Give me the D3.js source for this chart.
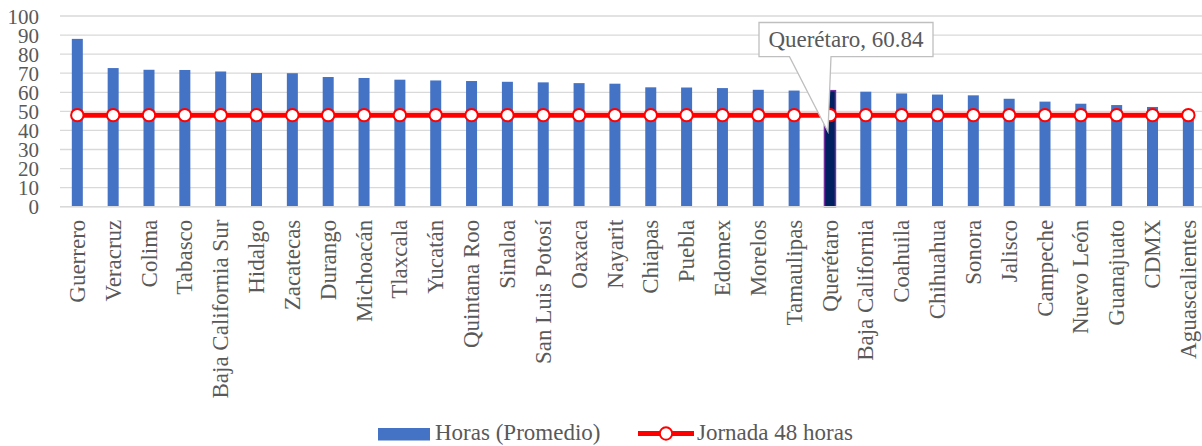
<!DOCTYPE html>
<html><head><meta charset="utf-8">
<script src="https://cdn.jsdelivr.net/npm/d3@7"></script>
<style>body{margin:0;background:#fff}svg{display:block}</style>
</head><body>
<svg id="c" width="1202" height="446"></svg>
<script>
const categories = ["Guerrero","Veracruz","Colima","Tabasco","Baja California Sur","Hidalgo","Zacatecas","Durango","Michoacán","Tlaxcala","Yucatán","Quintana Roo","Sinaloa","San Luis Potosí","Oaxaca","Nayarit","Chiapas","Puebla","Edomex","Morelos","Tamaulipas","Querétaro","Baja California","Coahuila","Chihuahua","Sonora","Jalisco","Campeche","Nuevo León","Guanajuato","CDMX","Aguascalientes"];
const horas = [88.0,72.7,71.8,71.7,70.9,70.1,70.0,68.0,67.5,66.6,66.2,65.9,65.5,65.2,64.8,64.5,62.6,62.5,62.2,61.3,60.9,60.84,60.3,59.4,58.8,58.4,56.6,55.1,54.0,53.3,52.3,48.2];
const jornada = categories.map(() => 48);
const yTicks = [0,10,20,30,40,50,60,70,80,90,100];
const highlight = "Querétaro";
const calloutText = "Querétaro, 60.84";
const seriesNames = ["Horas (Promedio)", "Jornada 48 horas"];

const svg = d3.select("#c");
const FONT = "Liberation Serif, serif";
const TXT = "#595959";

const x = d3.scaleBand().domain(categories).range([59.4, 59.4 + 32*35.84]).paddingInner(0.69).paddingOuter(0.345);
const y = d3.scaleLinear().domain([0,100]).range([206.7, 16]);

svg.append("g").selectAll("line").data(yTicks).join("line")
  .attr("x1", 60).attr("x2", 1202)
  .attr("y1", d => y(d)).attr("y2", d => y(d))
  .attr("stroke", "#d9d9d9").attr("stroke-width", 1.3);

const yAxis = d3.axisLeft(y).tickValues(yTicks).tickSize(0).tickPadding(0);
const ga = svg.append("g").attr("transform", "translate(39,0)").call(yAxis);
ga.attr("font-family", null);
ga.select(".domain").remove();
ga.selectAll("text").style("font-family", FONT).attr("font-size", 21).attr("fill", TXT).attr("dy", "0.34em");

const bw = 11;
svg.append("g").selectAll("rect").data(categories).join("rect")
  .attr("x", d => x(d) + x.bandwidth()/2 - bw/2)
  .attr("width", bw)
  .attr("y", (d,i) => y(horas[i]))
  .attr("height", (d,i) => y(0) - y(horas[i]))
  .attr("fill", d => d === highlight ? "#002060" : "#4472c4")
  .attr("stroke", d => d === highlight ? "#7030a0" : "none")
  .attr("stroke-width", 1.5);

svg.append("line").attr("x1", 60).attr("x2", 1202).attr("y1", y(0)).attr("y2", y(0))
  .attr("stroke", "#d9d9d9").attr("stroke-width", 1.5);

const xAxis = d3.axisBottom(x).tickSize(0).tickPadding(0);
const gx = svg.append("g").attr("transform", `translate(0,${y(0)})`).call(xAxis);
gx.attr("font-family", null);
gx.select(".domain").remove();
gx.selectAll("text")
  .style("font-family", FONT).attr("font-size", 23).attr("fill", TXT)
  .attr("transform", "rotate(-90)")
  .attr("text-anchor", "end")
  .attr("x", -13).attr("y", 0).attr("dy", "0.33em");

const cx = d => x(d) + x.bandwidth()/2;
const line = d3.line().x((d,i) => cx(categories[i])).y(d => y(d));
svg.append("path").datum(jornada).attr("d", line)
  .attr("fill", "none").attr("stroke", "#ff0000").attr("stroke-width", 5);
svg.append("g").selectAll("circle").data(jornada).join("circle")
  .attr("cx", (d,i) => cx(categories[i])).attr("cy", d => y(d)).attr("r", 6.2)
  .attr("fill", "#fff").attr("stroke", "#ff0000").attr("stroke-width", 2);

const qi = categories.indexOf(highlight);
const tipX = cx(highlight) - 2, tipY = y(horas[qi]) + 41;
const bx0 = 759, bx1 = 933, by0 = 22.5, by1 = 56.7;
const path = `M${bx0},${by0} L${bx1},${by0} L${bx1},${by1} L831,${by1} L${tipX},${tipY} L789.5,${by1} L${bx0},${by1} Z`;
svg.append("path").attr("d", path).attr("fill", "#fff").attr("stroke", "#bfbfbf").attr("stroke-width", 1.3);
svg.append("text").attr("x", (bx0+bx1)/2).attr("y", 47).attr("text-anchor", "middle")
  .style("font-family", FONT).attr("font-size", 23).attr("fill", TXT).text(calloutText);

const lg = svg.append("g");
lg.append("rect").attr("x", 378).attr("y", 428).attr("width", 52).attr("height", 12.5).attr("fill", "#4472c4");
lg.append("text").attr("x", 435).attr("y", 440).style("font-family", FONT).attr("font-size", 23).attr("fill", TXT).text(seriesNames[0]);
lg.append("line").attr("x1", 638).attr("x2", 694).attr("y1", 433.5).attr("y2", 433.5).attr("stroke", "#ff0000").attr("stroke-width", 5);
lg.append("circle").attr("cx", 666).attr("cy", 433.5).attr("r", 6.2).attr("fill", "#fff").attr("stroke", "#ff0000").attr("stroke-width", 2);
lg.append("text").attr("x", 697).attr("y", 440).style("font-family", FONT).attr("font-size", 23).attr("fill", TXT).text(seriesNames[1]);
</script>
</body></html>
